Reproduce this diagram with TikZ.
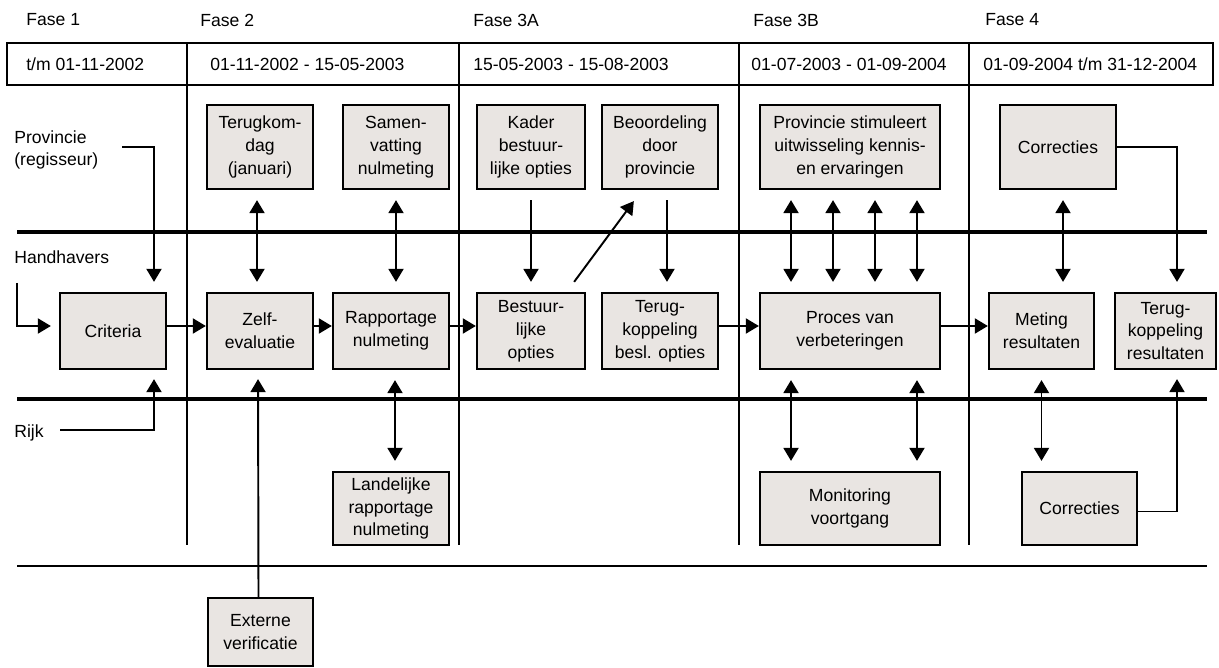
\documentclass[tikz,border=0pt]{standalone}
\usepackage{fontspec}
\setmainfont{Liberation Sans}
\usetikzlibrary{arrows.meta}
\definecolor{boxgrey}{RGB}{233,229,226}

\begin{document}
\begin{tikzpicture}[
                x=0.02cm, y=-0.02cm,
                box/.style={
                    draw=black,
                    fill=boxgrey,
                    rectangle,
                    line width=1.3pt,
                    inner sep=0pt,
                    align=center,
                    font=\fontsize{10}{13}\selectfont
                },
                toprow/.style={box, minimum height=1.68cm},
                midrow/.style={box, minimum height=1.52cm},
                lowrow/.style={box, minimum height=1.46cm},
                txt/.style={
                    anchor=west,
                    inner sep=0pt,
                    align=left,
                    font=\fontsize{10}{13}\selectfont
                },
                divider/.style={line width=1.1pt},
                bar/.style={line width=2.8pt},
                arrow/.style={
                    -{Triangle[length=0.26cm,width=0.3cm]},
                    line width=1.1pt
                },
                biarrow/.style={
                    {Triangle[length=0.26cm,width=0.3cm]}-{Triangle[length=0.26cm,width=0.3cm]},
                    line width=1.1pt,
                    shorten <=0.2cm,
                    shorten >=0.2cm
                },
                gap/.style={shorten <=0.2cm, shorten >=0.2cm}
            ]
                \useasboundingbox (0,0) rectangle (1219,668);

                % phases and dates
                \node[txt] (fase1)  at (26,20)  {Fase 1};
                \node[txt] (fase2)  at (200,20) {Fase 2};
                \node[txt] (fase3a) at (473,20) {Fase 3A};
                \node[txt] (fase3b) at (753,20) {Fase 3B};
                \node[txt] (fase4)  at (985,20) {Fase 4};

                \draw[divider] (7,43) rectangle (1213,85);
                \node[txt] (date1) at (26,64)  {t/m 01-11-2002};
                \node[txt] (date2) at (210,64) {01-11-2002 - 15-05-2003};
                \node[txt] (date3) at (473,64) {15-05-2003 - 15-08-2003};
                \node[txt] (date4) at (751,64) {01-07-2003 - 01-09-2004};
                \node[txt] (date5) at (983,64) {01-09-2004 t/m 31-12-2004};

                \draw[divider] (187,43) -- (187,545);
                \draw[divider] (459,43) -- (459,545);
                \draw[divider] (739,43) -- (739,545);
                \draw[divider] (969,43) -- (969,545);

                \draw[bar] (17,232) -- (1207,232);
                \draw[bar] (17,399) -- (1207,399);
                \draw[divider] (17,566) -- (1207,566);

                % actors
                \node[txt] (provincie)  at (14,150) {Provincie\\(regisseur)};
                \node[txt] (handhavers) at (14,257) {Handhavers};
                \node[txt] (rijk)       at (14,433) {Rijk};

                % top row
                \node[toprow, minimum width=2.12cm] (terugkom) at (260,147)  {Terugkom-\\dag\\(januari)};
                \node[toprow, minimum width=2.12cm] (samen)    at (396,147)  {Samen-\\vatting\\nulmeting};
                \node[toprow, minimum width=2.16cm] (kader)    at (531,147)  {Kader\\bestuur-\\lijke opties};
                \node[toprow, minimum width=2.32cm] (beoord)   at (660,147)  {Beoordeling\\door\\provincie};
                \node[toprow, minimum width=3.6cm]  (stim)     at (850,147)  {Provincie stimuleert\\uitwisseling kennis-\\en ervaringen};
                \node[toprow, minimum width=2.32cm] (corrtop)  at (1058,147) {Correcties};

                % middle row
                \node[midrow, minimum width=2.12cm] (criteria)  at (113,331)    {Criteria};
                \node[midrow, minimum width=2.12cm] (zelf)      at (260,331)    {Zelf-\\evaluatie};
                \node[midrow, minimum width=2.32cm] (rapport)   at (391,331)    {Rapportage\\nulmeting};
                \node[midrow, minimum width=2.16cm] (bestuur)   at (531,331)    {Bestuur-\\lijke\\opties};
                \node[midrow, minimum width=2.32cm] (terugbesl) at (660,331)    {Terug-\\koppeling\\besl. opties};
                \node[midrow, minimum width=3.6cm]  (proces)    at (850,331)    {Proces van\\verbeteringen};
                \node[midrow, minimum width=2.1cm]  (meting)    at (1041.5,331) {Meting\\resultaten};
                \node[midrow, minimum width=2.02cm] (terugres)  at (1165.5,331) {Terug-\\koppeling\\resultaten};

                % bottom row
                \node[lowrow, minimum width=2.32cm] (landelijk) at (391,508.5)  {Landelijke\\rapportage\\nulmeting};
                \node[lowrow, minimum width=3.6cm]  (monitor)   at (850,508.5)  {Monitoring\\voortgang};
                \node[lowrow, minimum width=2.3cm]  (corrlow)   at (1079.5,508.5) {Correcties};
                \node[box, minimum width=2.1cm, minimum height=1.36cm] (externe) at (260.5,632) {Externe\\verificatie};

                % inputs to criteria
                \coordinate (provstart) at (122,147);
                \coordinate (handstart) at (17,283);
                \coordinate (rijkstart) at (60,430);
                \draw[arrow, shorten >=0.2cm] (provstart) -| ([xshift=0.82cm]criteria.north);
                \draw[arrow, shorten >=0.16cm] (handstart) |- ([yshift=0.1cm]criteria.west);
                \draw[arrow, shorten >=0.18cm] (rijkstart) -| ([xshift=0.82cm]criteria.south);

                % main flow
                \draw[arrow] ([yshift=0.1cm]criteria.east) -- ([yshift=0.1cm]zelf.west);
                \draw[arrow] ([yshift=0.1cm]zelf.east) -- ([yshift=0.1cm]rapport.west);
                \draw[arrow] ([yshift=0.1cm]rapport.east) -- ([yshift=0.1cm]bestuur.west);
                \draw[arrow] ([yshift=0.1cm]terugbesl.east) -- ([yshift=0.1cm]proces.west);
                \draw[arrow] ([yshift=0.1cm]proces.east) -- ([yshift=0.1cm]meting.west);

                % fase 2
                \draw[biarrow] ([xshift=-0.06cm]terugkom.south) -- ([xshift=-0.06cm]zelf.north);
                \draw[biarrow] (samen.south) -- (samen.south |- rapport.north);
                \draw[biarrow] ([xshift=0.08cm]rapport.south) -- ([xshift=0.08cm]landelijk.north);
                \draw[arrow, shorten >=0.18cm] ([xshift=-0.04cm]externe.north) -- ([xshift=-0.04cm]zelf.south);

                % fase 3A
                \draw[arrow, gap] (kader.south) -- (bestuur.north);
                \draw[arrow] ([xshift=-0.24cm,yshift=0.2cm]bestuur.north east) -- ([xshift=0.66cm,yshift=-0.22cm]beoord.south west);
                \draw[arrow, gap] ([xshift=0.14cm]beoord.south) -- ([xshift=0.14cm]terugbesl.north);

                % fase 3B
                \draw[biarrow] ([xshift=-1.18cm]stim.south) -- ([xshift=-1.18cm]proces.north);
                \draw[biarrow] ([xshift=-0.34cm]stim.south) -- ([xshift=-0.34cm]proces.north);
                \draw[biarrow] ([xshift=0.5cm]stim.south) -- ([xshift=0.5cm]proces.north);
                \draw[biarrow] ([xshift=1.34cm]stim.south) -- ([xshift=1.34cm]proces.north);
                \draw[biarrow] ([xshift=-1.18cm]proces.south) -- ([xshift=-1.18cm]monitor.north);
                \draw[biarrow] ([xshift=1.34cm]proces.south) -- ([xshift=1.34cm]monitor.north);

                % fase 4
                \draw[biarrow] ([xshift=0.1cm]corrtop.south) -- ([xshift=0.1cm]corrtop.south |- meting.north);
                \draw[biarrow] (meting.south) -- (meting.south |- corrlow.north);
                \draw[arrow, shorten >=0.2cm] (corrtop.east) -| ([xshift=0.23cm]terugres.north);
                \draw[arrow, shorten >=0.18cm] ([yshift=-0.06cm]corrlow.east) -| ([xshift=0.23cm]terugres.south);
        \end{tikzpicture}
\end{document}
